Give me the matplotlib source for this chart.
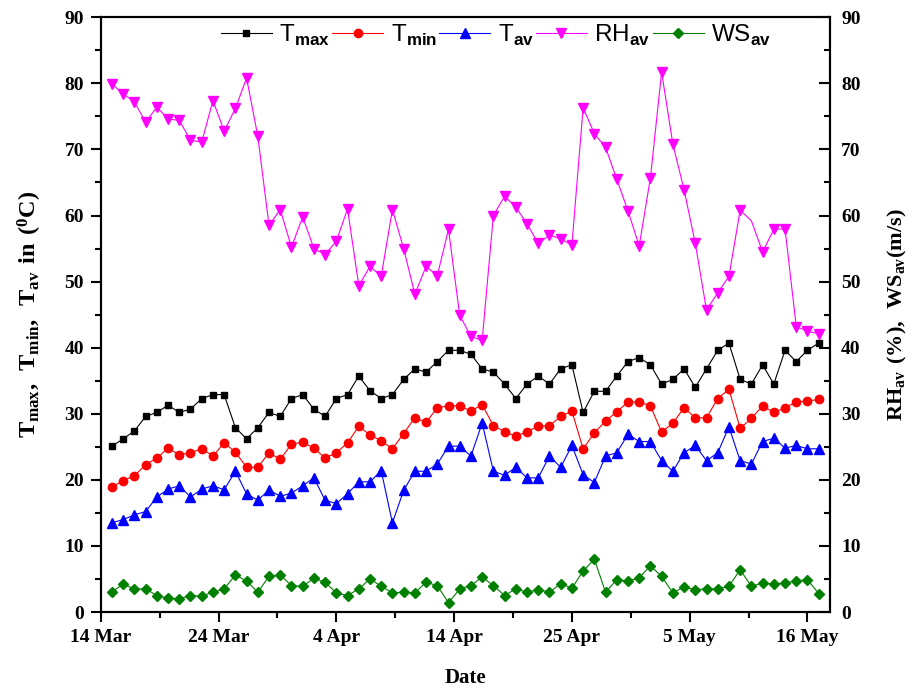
import numpy as np
import matplotlib.pyplot as plt
from matplotlib.ticker import MultipleLocator, FixedLocator

plt.rcParams['font.family'] = 'Liberation Serif'
plt.rcParams['font.weight'] = 'bold'
plt.rcParams['mathtext.fontset'] = 'custom'
plt.rcParams['mathtext.rm'] = 'Liberation Sans:weight=normal'
plt.rcParams['mathtext.sf'] = 'Liberation Sans:weight=bold'
plt.rcParams['mathtext.bf'] = 'Liberation Serif:weight=bold'

# days after 14 Mar
day = np.arange(1, 65)

tmax = [25.1, 26.2, 27.4, 29.6, 30.2, 31.3, 30.2, 30.7, 32.3, 32.9,
        32.9, 27.9, 26.2, 27.9, 30.2, 29.6, 32.3, 32.9, 30.7, 29.6,
        32.3, 32.9, 35.7, 33.5, 32.3, 32.9, 35.2, 36.8, 36.3, 37.9,
        39.6, 39.6, 39.0, 36.8, 36.3, 34.5, 32.3, 34.5, 35.7, 34.5,
        36.8, 37.4, 30.2, 33.4, 33.4, 35.7, 37.9, 38.5, 37.4, 34.5,
        35.2, 36.8, 34.0, 36.8, 39.6, 40.7, 35.2, 34.5, 37.4, 34.5,
        39.6, 37.9, 39.6, 40.7]
tmin = [18.9, 19.9, 20.6, 22.3, 23.3, 24.8, 23.8, 24.1, 24.7, 23.6,
        25.6, 24.2, 21.9, 21.9, 24.1, 23.1, 25.4, 25.7, 24.8, 23.3,
        24.1, 25.6, 28.1, 26.8, 25.9, 24.7, 27.0, 29.4, 28.7, 30.9,
        31.2, 31.2, 30.4, 31.4, 28.2, 27.3, 26.6, 27.3, 28.1, 28.2,
        29.6, 30.4, 24.7, 27.1, 28.9, 30.3, 31.8, 31.8, 31.2, 27.2,
        28.6, 30.9, 29.4, 29.4, 32.3, 33.7, 27.8, 29.3, 31.2, 30.2,
        30.9, 31.8, 31.9, 32.2]
tav = [13.5, 14.0, 14.7, 15.2, 17.4, 18.6, 19.1, 17.4, 18.6, 19.1,
       18.5, 21.3, 17.9, 16.9, 18.5, 17.5, 18.0, 19.1, 20.3, 16.9,
       16.4, 17.9, 19.7, 19.7, 21.4, 13.5, 18.4, 21.3, 21.3, 22.4,
       25.1, 25.1, 23.6, 28.6, 21.3, 20.7, 21.9, 20.3, 20.3, 23.6,
       21.9, 25.2, 20.8, 19.6, 23.6, 24.1, 26.9, 25.8, 25.8, 22.9,
       21.3, 24.1, 25.2, 22.9, 24.1, 28.0, 22.9, 22.4, 25.8, 26.3,
       24.8, 25.2, 24.7, 24.7]
rh = [79.9, 78.4, 77.2, 74.1, 76.4, 74.6, 74.4, 71.4, 71.1, 77.4,
      72.8, 76.2, 80.8, 72.0, 58.5, 60.9, 55.2, 59.8, 55.0, 54.1,
      56.1, 61.0, 49.4, 52.3, 50.8, 60.9, 55.0, 48.1, 52.3, 50.9,
      57.9, 44.9, 41.7, 41.1, 60.0, 62.9, 61.3, 58.7, 55.8, 57.0,
      56.5, 55.5, 76.3, 72.4, 70.3, 65.5, 60.7, 55.4, 65.7, 81.7,
      70.8, 63.9, 55.8, 45.7, 48.3, 50.8, 60.8, 59.2, 54.5, 57.9,
      58.0, 43.2, 42.5, 42.1]
ws = [3.1, 4.2, 3.5, 3.5, 2.5, 2.1, 2.0, 2.5, 2.4, 3.0,
      3.5, 5.6, 4.7, 3.0, 5.4, 5.6, 4.0, 3.9, 5.1, 4.5,
      2.9, 2.5, 3.5, 5.0, 3.9, 2.9, 3.0, 2.9, 4.5, 4.0,
      1.4, 3.5, 4.0, 5.3, 4.0, 2.5, 3.5, 3.0, 3.4, 3.0,
      4.3, 3.6, 6.2, 8.0, 3.0, 4.9, 4.7, 5.2, 7.0, 5.4,
      2.9, 3.8, 3.4, 3.5, 3.5, 3.9, 6.4, 3.9, 4.4, 4.2,
      4.4, 4.7, 4.9, 2.8]

tick_pos = [0, 10.5, 21, 31.5, 42, 52.5, 63]
tick_lbl = ['14 Mar', '24 Mar', '4 Apr', '14 Apr', '25 Apr', '5 May', '16 May']

fig = plt.figure(figsize=(9.16, 6.9), dpi=100)
ax = fig.add_axes([0.110, 0.113, 0.796, 0.862])
ax2 = ax.twinx()

h1, = ax.plot(day, tmax, '-s', color='black', lw=0.8, ms=5)
h2, = ax.plot(day, tmin, '-o', color='red', lw=0.8, ms=6)
h3, = ax.plot(day, tav, '-^', color='blue', lw=0.8, ms=7)
# the original has no marker on one RH point
rh_marks = [i for i in range(len(rh)) if i != 57]
h4, = ax2.plot(day, rh, '-v', color='magenta', lw=0.8, ms=7, markevery=rh_marks)
h5, = ax2.plot(day, ws, '-D', color='green', lw=0.8, ms=5.5)

ax.set_xlim(0, 65)
ax.set_ylim(0, 90)
ax2.set_ylim(0, 90)

ax.xaxis.set_major_locator(FixedLocator(tick_pos))
ax.xaxis.set_minor_locator(FixedLocator(np.array(tick_pos[:-1]) + 5.25))
ax.set_xticklabels(tick_lbl)
ax.yaxis.set_major_locator(MultipleLocator(10))
ax.yaxis.set_minor_locator(MultipleLocator(5))
ax2.yaxis.set_major_locator(MultipleLocator(10))
ax2.yaxis.set_minor_locator(MultipleLocator(5))

ax.tick_params(which='major', direction='out', length=7, width=1.5, labelsize=14, pad=5)
ax.tick_params(which='minor', direction='out', length=4, width=1.5)
ax2.tick_params(which='major', direction='in', length=8, width=1.5, labelsize=14, pad=8)
ax2.tick_params(which='minor', direction='in', length=4.5, width=1.5)

for a in (ax, ax2):
    for s in a.spines.values():
        s.set_linewidth(1.5)

ax.set_xlabel('Date', fontsize=15, fontweight='bold', labelpad=16)
ax.set_ylabel(r'$\mathbf{T_{max},\ T_{min},\ T_{av}\ in\ (^{0}C)}$', fontsize=17.5, labelpad=15)
ax2.set_ylabel(r'$\mathbf{RH_{av}\ (\%),\ WS_{av}(m/s)}$', fontsize=16, labelpad=18)

labels = [r'$\mathrm{T}_{\mathsf{max}}$', r'$\mathrm{T}_{\mathsf{min}}$', r'$\mathrm{T}_{\mathsf{av}}$',
          r'$\mathrm{RH}_{\mathsf{av}}$', r'$\mathrm{WS}_{\mathsf{av}}$']
ax2.legend([h1, h2, h3, h4, h5], labels, loc='upper center', bbox_to_anchor=(0.542, 1.015),
           ncol=5, frameon=False, fontsize=17.5, handlelength=2.1, handletextpad=0.3,
           columnspacing=0.1, borderaxespad=0.2)

fig.savefig('out.png', dpi=100)
